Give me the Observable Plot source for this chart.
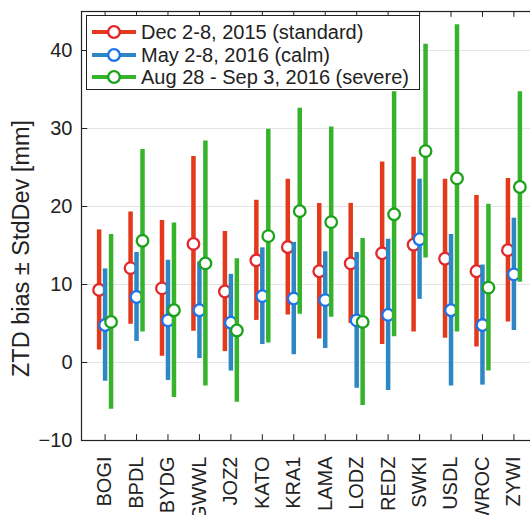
<!DOCTYPE html>
<html>
<head>
<meta charset="utf-8">
<script src="https://cdn.jsdelivr.net/npm/d3@7"></script>
<script src="https://cdn.jsdelivr.net/npm/@observablehq/plot@0.6"></script>
<style>
  html, body { margin: 0; padding: 0; background: #fff; overflow: hidden; width: 530px; height: 515px; }
  #wrap { position: relative; width: 530px; height: 515px; overflow: hidden; font-family: "Liberation Sans", Arial, sans-serif; }
  #wrap svg { max-width: none !important; }
  #ylabel { position: absolute; left: 9px; top: 377px; transform-origin: 0 0; transform: rotate(-90deg);
            font-size: 23.5px; line-height: 24px; white-space: nowrap; color: #222; }
  #legend { position: absolute; left: 86px; top: 15px; width: 334px; height: 75px; box-sizing: border-box;
            border: 1.2px solid #222; background: #fff; font-size: 20px; color: #222; }
  .lrow { position: absolute; left: 0; height: 22px; white-space: nowrap; }
  .lrow svg { position: absolute; left: 3px; top: 0; }
  .lrow span { position: absolute; left: 54px; top: 0; line-height: 22px; }
</style>
</head>
<body>
<div id="wrap">
  <div id="chart"></div>
  <div id="ylabel">ZTD bias ± StdDev [mm]</div>
  <div id="legend"></div>
</div>
<script>
// ---- data ----
const stations = ["BOGI","BPDL","BYDG","GWWL","JOZ2","KATO","KRA1","LAMA","LODZ","REDZ","SWKI","USDL","WROC","ZYWI"];
const seriesNames = ["Dec 2-8, 2015 (standard)", "May 2-8, 2016 (calm)", "Aug 28 - Sep 3, 2016 (severe)"];
const decBias = [9.3, 12.1, 9.5, 15.2, 9.1, 13.1, 14.8, 11.7, 12.7, 14.0, 15.1, 13.3, 11.7, 14.4];
const decStd  = [7.7, 7.2, 8.7, 11.2, 7.7, 7.7, 8.7, 8.7, 7.7, 11.7, 11.2, 10.2, 9.7, 9.2];
const mayBias = [4.8, 8.4, 5.4, 6.7, 5.1, 8.5, 8.2, 8.0, 5.4, 6.1, 15.8, 6.7, 4.8, 11.3];
const mayStd  = [7.2, 5.7, 7.7, 6.2, 6.2, 6.2, 7.2, 6.2, 8.7, 9.7, 7.7, 9.7, 7.7, 7.2];
const augBias = [5.2, 15.6, 6.7, 12.7, 4.1, 16.2, 19.4, 18.0, 5.2, 19.0, 27.1, 23.6, 9.6, 22.5];
const augStd  = [11.2, 11.7, 11.2, 15.7, 9.2, 13.7, 13.2, 12.2, 10.7, 15.7, 13.7, 19.7, 10.7, 12.2];
const yTicks = [-10, 0, 10, 20, 30, 40];

// ---- styles ----
const styles = [
  {bar: "#e4391b", ring: "#e3272a", off: -0.19},
  {bar: "#2d87c5", ring: "#1a74ee", off: 0},
  {bar: "#36b32b", ring: "#1ba21b", off: 0.19}
];
const seriesData = [
  {name: seriesNames[0], bias: decBias, std: decStd},
  {name: seriesNames[1], bias: mayBias, std: mayStd},
  {name: seriesNames[2], bias: augBias, std: augStd}
];

const xDom = [0.25, 14.75], yDom = [-10, 45];
const stationPos = stations.map((s, i) => i + 1);

const seriesMarks = seriesData.flatMap((s, si) => {
  const st = styles[si];
  const rows = stations.map((name, i) => ({
    station: name,
    pos: i + 1 + st.off,
    bias: s.bias[i],
    lo: s.bias[i] - s.std[i],
    hi: s.bias[i] + s.std[i]
  }));
  return [
    Plot.ruleX(rows, {x: "pos", y1: "lo", y2: "hi", stroke: st.bar, strokeWidth: 4.5}),
    Plot.dot(rows, {x: "pos", y: "bias", r: 5.8, fill: "white", stroke: st.ring, strokeWidth: 2.3})
  ];
});

const W = 540;
const chart = Plot.plot({
  width: W, height: 515,
  marginLeft: 81, marginRight: W - 537, marginTop: 11, marginBottom: 75,
  style: {fontFamily: '"Liberation Sans", Arial, sans-serif', fontSize: "20px", color: "#222", background: "white", overflow: "visible"},
  x: {type: "linear", domain: xDom, ticks: stationPos, tickFormat: i => stations[i - 1],
      tickRotate: -90, tickSize: 0, tickPadding: 16, label: null},
  y: {domain: yDom, ticks: yTicks, tickSize: 0, tickPadding: 9, label: null},
  marks: [
    Plot.ruleY(yTicks.slice(1), {stroke: "#e4e4e4", strokeWidth: 1}),
    ...seriesMarks,
    Plot.ruleY(yTicks, {x1: xDom[0], x2: xDom[0] + 0.2, stroke: "#222"}),
    Plot.ruleY(yTicks, {x1: xDom[1] - 0.2, x2: xDom[1], stroke: "#222"}),
    Plot.ruleX(stationPos, {y1: yDom[0], y2: yDom[0] + 0.75, stroke: "#222"}),
    Plot.ruleX(stationPos, {y1: yDom[1] - 0.75, y2: yDom[1], stroke: "#222"}),
    Plot.frame({stroke: "#222", strokeWidth: 1.2})
  ]
});
document.getElementById("chart").appendChild(chart);

// ---- legend ----
const legend = document.getElementById("legend");
const rowTops = [5, 28, 50];
seriesNames.forEach((name, i) => {
  const row = document.createElement("div");
  row.className = "lrow";
  row.style.top = rowTops[i] + "px";
  row.innerHTML = `<svg width="50" height="22"><line x1="2" x2="46" y1="11" y2="11" stroke="${styles[i].bar}" stroke-width="4"/>` +
    `<circle cx="24" cy="11" r="5.8" fill="white" stroke="${styles[i].ring}" stroke-width="2.3"/></svg><span>${name}</span>`;
  legend.appendChild(row);
});
</script>
</body>
</html>
